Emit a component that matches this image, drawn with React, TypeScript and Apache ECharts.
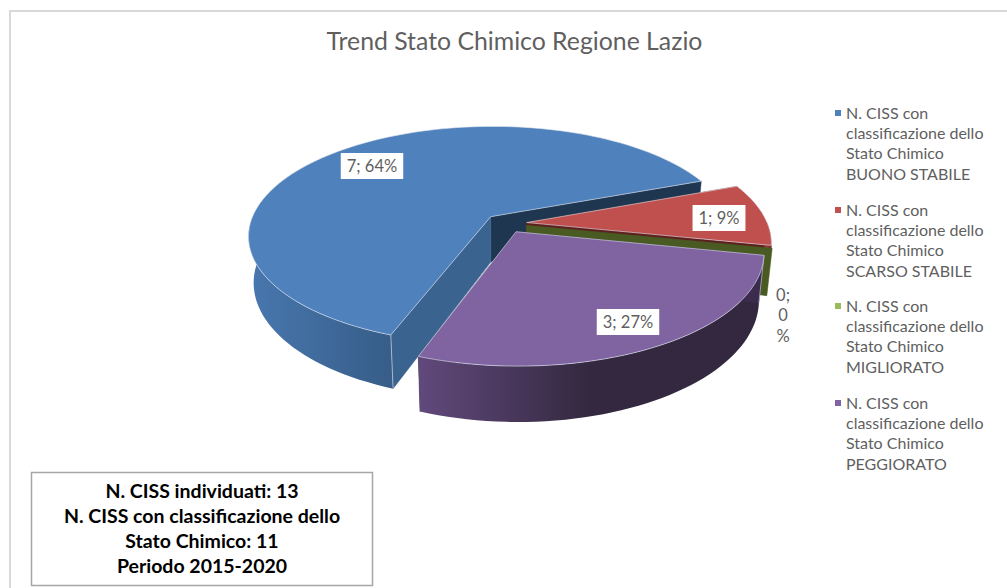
import React, { useEffect, useRef } from "react";
import * as echarts from "echarts";

const TITLE = "Trend Stato Chimico Regione Lazio";
const CATEGORIES = [
  "N. CISS con\nclassificazione dello\nStato Chimico\nBUONO STABILE",
  "N. CISS con\nclassificazione dello\nStato Chimico\nSCARSO STABILE",
  "N. CISS con\nclassificazione dello\nStato Chimico\nMIGLIORATO",
  "N. CISS con\nclassificazione dello\nStato Chimico\nPEGGIORATO",
];
const VALUES = [7, 1, 0, 3];
const BOX_LINES = [
  "N. CISS individuati: 13",
  "N. CISS con classificazione dello",
  "Stato Chimico: 11",
  "Periodo 2015-2020",
];

// Colours, one per slice
const TOP = ["#4F81BD", "#C0504D", "#9BBB59", "#8064A2"];
const BACK_FACE = ["#1F3650", "#5E1F1E", "#4A5A23", "#3B2C4E"];
const FRONT_FACE = ["#3B638F", "#5E1F1E", "#4A5A23", "#3B2C4E"];
const WALL_LEFT = ["#4877AE", "#8E3A38", "#4A5A23", "#61497C"];
const WALL_MID = ["#3F6A9B", "#7E3230", "#4A5A23", "#33283F"];
const WALL_RIGHT = ["#375D88", "#6E2A28", "#4A5A23", "#33283F"];

// Pie geometry
const FIRST_ANGLE = 200;
const CENTER = { x: 505.6, y: 223.3 };
const RX = 240.7;
const RY = 108;
const PERSPECTIVE = 5.8;
const DEPTH = 45.5;
const EXPLODE = 0.088;
const LABEL_CENTERS = [
  [372, 166],
  [719, 218],
  [783, 315],
  [628, 322],
];
const TEXT_GREY = "#5F5F5F";
const TOTAL = VALUES.reduce((a, b) => a + b, 0);
const rad = (d: number) => (d * Math.PI) / 180;

function sliceAngles(i: number) {
  let start = FIRST_ANGLE;
  for (let k = 0; k < i; k++) start += (VALUES[k] / TOTAL) * 360;
  if (start >= 360) start -= 360;
  return [start, start + (VALUES[i] / TOTAL) * 360];
}

function renderSlice(params: any, api: any) {
  const i = params.dataIndex;
  const value = api.value(0);
  const [a0, a1] = sliceAngles(i);
  const mid = (a0 + a1) / 2;
  const offX = EXPLODE * Math.sin(rad(mid));
  const offY = EXPLODE * Math.cos(rad(mid));
  const pt = (deg: number, z: number, r = 1) => {
    const X = offX + r * Math.sin(rad(deg));
    const Y = offY + r * Math.cos(rad(deg));
    const s = PERSPECTIVE / (PERSPECTIVE + Y);
    return [CENTER.x + RX * X * s * (1 - 0.02 * z), CENTER.y - RY * Y * s + DEPTH * s * z];
  };
  const arc = (from: number, to: number, z: number) => {
    const out: number[][] = [];
    const n = Math.max(1, Math.ceil(Math.abs(to - from) / 2));
    for (let k = 0; k <= n; k++) out.push(pt(from + ((to - from) * k) / n, z));
    return out;
  };
  const edge = "rgba(225,230,240,0.75)";
  const children: any[] = [];
  const face = (deg: number, fill: string) => ({
    type: "polygon",
    shape: { points: [pt(deg, 0, 0), pt(deg, 0), pt(deg, 1), pt(deg, 1, 0)] },
    style: { fill, stroke: fill, lineWidth: 0.5 },
  });

  children.push(face(a1, BACK_FACE[i]));
  if (value > 0) {
    // outer wall: front half of the rim only
    const lo = Math.max(a0, 90);
    const hi = Math.min(a1, 270);
    if (hi > lo) {
      const x1 = pt(hi, 0)[0];
      const x2 = pt(lo, 0)[0];
      children.push({
        type: "polygon",
        shape: { points: arc(lo, hi, 0).concat(arc(hi, lo, 1)) },
        style: {
          fill: {
            type: "linear",
            global: true,
            x: Math.min(x1, x2),
            y: 0,
            x2: Math.max(x1, x2),
            y2: 0,
            colorStops: [
              { offset: 0, color: WALL_LEFT[i] },
              { offset: 0.5, color: WALL_MID[i] },
              { offset: 1, color: WALL_RIGHT[i] },
            ],
          },
        },
      });
    }
    children.push(face(a0, FRONT_FACE[i]));
    children.push({
      type: "polyline",
      shape: { points: [pt(a0, 0), pt(a0, 1)] },
      style: { stroke: edge, lineWidth: 0.8, fill: "none" },
    });
    // top face
    children.push({
      type: "polygon",
      shape: { points: [pt(a0, 0, 0)].concat(arc(a0, a1, 0)) },
      style: { fill: TOP[i], stroke: edge, lineWidth: 0.8 },
    });
  }

  const pct = Math.round((value / TOTAL) * 100);
  const [lx, ly] = LABEL_CENTERS[i];
  children.push({
    type: "text",
    z2: 10,
    x: lx,
    y: ly,
    style:
      value > 0
        ? {
            text: `${value}; ${pct}%`,
            fontFamily: "Lato",
            fontSize: 16.5,
            fill: TEXT_GREY,
            align: "center",
            verticalAlign: "middle",
            backgroundColor: "#fff",
            padding: [5, 6, 4, 6],
          }
        : {
            text: `${value};\n${pct}\n%`,
            fontFamily: "Lato",
            fontSize: 16.5,
            lineHeight: 20.5,
            fill: TEXT_GREY,
            align: "center",
            verticalAlign: "middle",
          },
  });
  return { type: "group", children };
}

function buildGraphic() {
  const els: any[] = [
    {
      type: "polyline",
      shape: { points: [[10, 588], [10, 11], [1007, 11]] },
      style: { stroke: "#D9D9D9", lineWidth: 2, fill: "none" },
    },
    {
      type: "rect",
      shape: { x: 31.5, y: 472.5, width: 341, height: 113 },
      style: { fill: "#fff", stroke: "#A6A6A6", lineWidth: 1.5 },
    },
  ];
  BOX_LINES.forEach((line, k) => {
    els.push({
      type: "text",
      x: 202,
      y: 490.5 + k * 25,
      style: {
        text: line,
        fontFamily: "Lato",
        fontWeight: "bold",
        fontSize: 19.5,
        fill: "#000",
        align: "center",
        verticalAlign: "middle",
      },
    });
  });
  const blockY = [113, 210, 306, 403];
  CATEGORIES.forEach((name, i) => {
    els.push({
      type: "rect",
      shape: { x: 835, y: blockY[i] - 3, width: 6, height: 6 },
      style: { fill: TOP[i] },
    });
    name.split("\n").forEach((line, k) => {
      els.push({
        type: "text",
        x: 846,
        y: blockY[i] - 1 + k * 20.4,
        style: {
          text: line,
          fontFamily: "Lato",
          fontSize: 16,
          fill: TEXT_GREY,
          align: "left",
          verticalAlign: "middle",
        },
      });
    });
  });
  return els;
}

export default function App() {
  const ref = useRef<HTMLDivElement>(null);
  useEffect(() => {
    document.body.style.margin = "0";
    const chart = echarts.init(ref.current!, undefined, { renderer: "svg" });
    chart.setOption({
      animation: false,
      backgroundColor: "#fff",
      title: {
        text: TITLE,
        left: 509.5,
        top: 23,
        textAlign: "center",
        textStyle: { fontFamily: "Lato", fontWeight: "normal", fontSize: 24.8, color: TEXT_GREY },
      },
      graphic: buildGraphic(),
      series: [
        {
          type: "custom",
          coordinateSystem: "none",
          renderItem: renderSlice,
          data: CATEGORIES.map((name, i) => ({ name, value: [VALUES[i]] })),
        },
      ],
    });
    return () => chart.dispose();
  }, []);
  return <div ref={ref} style={{ width: 1007, height: 588 }} />;
}
